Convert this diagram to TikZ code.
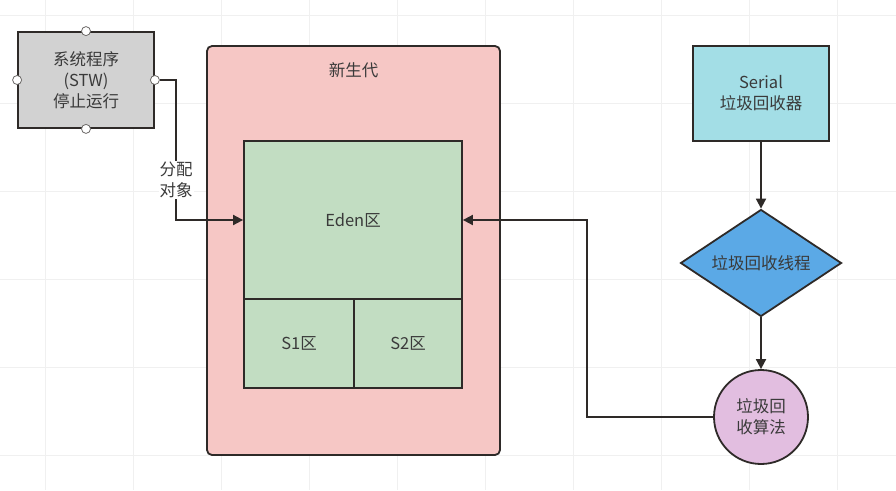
\documentclass[tikz,border=0pt]{standalone}
\usepackage{fontspec}
\setmainfont{Noto Sans CJK SC}
\usetikzlibrary{shapes.geometric,arrows.meta}
\definecolor{grayfill}{HTML}{D2D2D2}
\definecolor{pinkfill}{HTML}{F6C7C5}
\definecolor{greenfill}{HTML}{C2DDC2}
\definecolor{cyanfill}{HTML}{A3DEE6}
\definecolor{bluefill}{HTML}{5BA9E6}
\definecolor{lilacfill}{HTML}{E2BEE0}
\definecolor{edge}{HTML}{2E2A28}
\definecolor{gridc}{HTML}{F0F0F0}
\definecolor{txt}{HTML}{3A3A3A}
\tikzset{
  every node/.style={font=\fontsize{16.5}{21}\selectfont, text=txt},
  boxst/.style={draw=edge, line width=1.8pt, inner sep=0pt, align=center},
  conn/.style={draw=edge, line width=1.8pt, -{Triangle[length=10pt,width=10pt]}},
  handle/.style={circle, draw=edge!70, fill=white, line width=0.8pt, minimum size=9pt, inner sep=0pt},
}
\begin{document}
\begin{tikzpicture}[x=1pt,y=-1pt]
\useasboundingbox (0,0) rectangle (896,490);
\fill[white] (0,0) rectangle (896,490);
% faint grid
\foreach \x in {45,133,221,309,397,485,573,661,749,837}
  \draw[gridc, line width=0.6pt] (\x,0) -- (\x,490);
\foreach \y in {15,103,191,279,367,455}
  \draw[gridc, line width=0.6pt] (0,\y) -- (896,\y);

% system box
\node[boxst, fill=grayfill, minimum width=136pt, minimum height=96pt] (sys) at (86,80)
  {系统程序\\(STW)\\停止运行};
\node[handle] (h1) at (sys.north) {};
\node[handle] (h2) at (sys.south) {};
\node[handle] (h3) at (sys.west) {};
\node[handle] (h4) at (sys.east) {};

% young generation
\node[boxst, fill=pinkfill, rounded corners=5pt, minimum width=293pt, minimum height=409pt] (young) at (353.5,250.5) {};
\node (younglbl) at (353.5,70) {新生代};

\node[boxst, fill=greenfill, minimum width=218pt, minimum height=158pt] (eden) at (353,220) {Eden区};
\node[boxst, fill=greenfill, minimum width=110pt, minimum height=89pt] (s1) at (299,343.5) {S1区};
\node[boxst, fill=greenfill, minimum width=108pt, minimum height=89pt] (s2) at (408,343.5) {S2区};

% right column
\node[boxst, fill=cyanfill, minimum width=136pt, minimum height=95pt] (serial) at (761,93.5)
  {Serial\\垃圾回收器};
\node[boxst, diamond, fill=bluefill, minimum width=161pt, minimum height=107pt, aspect=1.5] (thread) at (761,263) {垃圾回收线程};
\node[boxst, circle, fill=lilacfill, minimum size=94pt] (algo) at (761,417) {垃圾回\\收算法};

% connectors
\coordinate (c1) at (176,80);
\coordinate (c2) at (176,220);
\draw[conn] (h4.east) -- (c1) -- (c2) -- (eden.west);
\node[fill=white, inner sep=1pt, align=center] (lbl) at (176,180) {分配\\对象};

\draw[conn] (serial.south) -- (thread.north);
\draw[conn] (thread.south) -- (algo.north);

\coordinate (c3) at (587,417);
\coordinate (c4) at (587,220);
\draw[conn] (algo.west) -- (c3) -- (c4) -- (eden.east);
\end{tikzpicture}
\end{document}
